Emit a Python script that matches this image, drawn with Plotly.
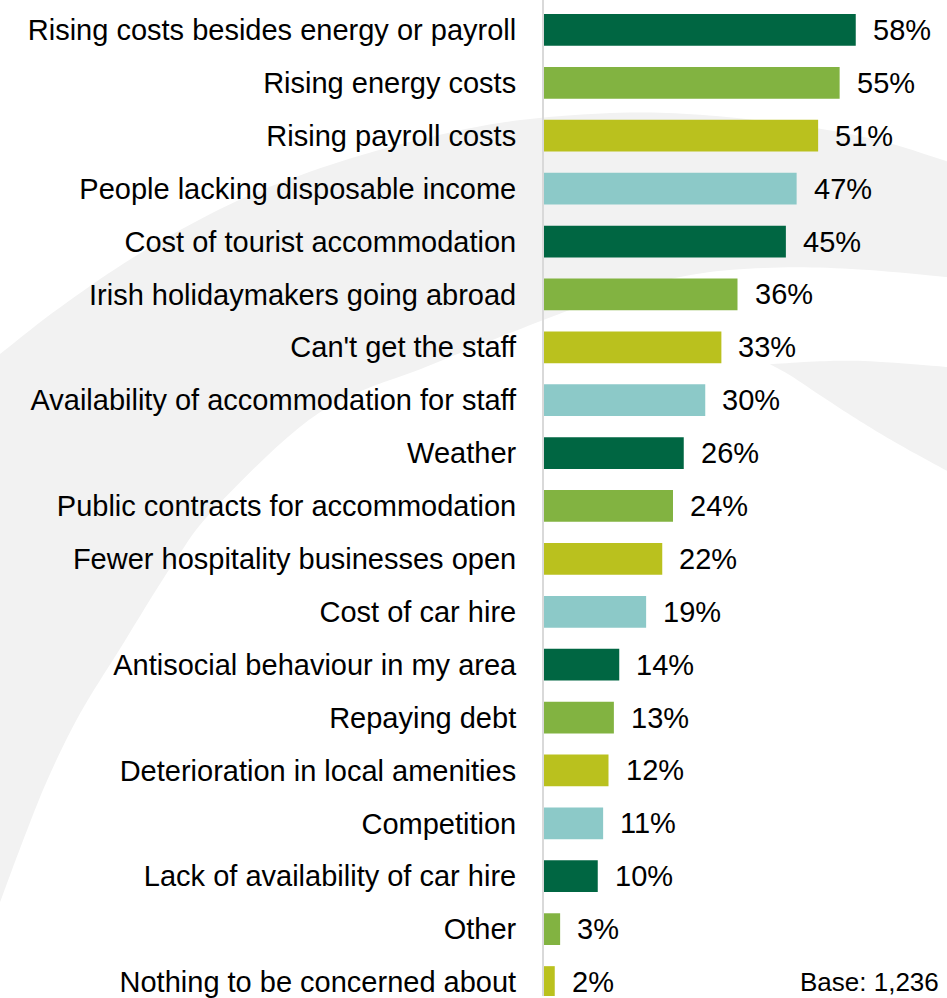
import plotly.graph_objects as go

# Concerns for the coming season, share of respondents (%)
categories = [
    "Rising costs besides energy or payroll",
    "Rising energy costs",
    "Rising payroll costs",
    "People lacking disposable income",
    "Cost of tourist accommodation",
    "Irish holidaymakers going abroad",
    "Can't get the staff",
    "Availability of accommodation for staff",
    "Weather",
    "Public contracts for accommodation",
    "Fewer hospitality businesses open",
    "Cost of car hire",
    "Antisocial behaviour in my area",
    "Repaying debt",
    "Deterioration in local amenities",
    "Competition",
    "Lack of availability of car hire",
    "Other",
    "Nothing to be concerned about",
]
values = [58, 55, 51, 47, 45, 36, 33, 30, 26, 24, 22, 19, 14, 13, 12, 11, 10, 3, 2]
base_note = "Base: 1,236"

W, H = 947, 998
ML, MR, MT, MB = 544, 0, 0, 0
FONT = "Liberation Sans, Arial, sans-serif"

palette = ["#006642", "#82B341", "#BAC11E", "#8CC9C8"]
bar_colors = [palette[i % len(palette)] for i in range(len(categories))]


def to_paper(px, py):
    return (px - ML) / (W - ML - MR), 1 - (py - MT) / (H - MT - MB)


def catmull(pts, steps=10):
    out = []
    n = len(pts)
    for i in range(n - 1):
        p0 = pts[max(i - 1, 0)]
        p1 = pts[i]
        p2 = pts[i + 1]
        p3 = pts[min(i + 2, n - 1)]
        for s in range(steps):
            t = s / steps
            t2, t3 = t * t, t * t * t
            x = 0.5 * ((2 * p1[0]) + (-p0[0] + p2[0]) * t
                       + (2 * p0[0] - 5 * p1[0] + 4 * p2[0] - p3[0]) * t2
                       + (-p0[0] + 3 * p1[0] - 3 * p2[0] + p3[0]) * t3)
            y = 0.5 * ((2 * p1[1]) + (-p0[1] + p2[1]) * t
                       + (2 * p0[1] - 5 * p1[1] + 4 * p2[1] - p3[1]) * t2
                       + (-p0[1] + 3 * p1[1] - 3 * p2[1] + p3[1]) * t3)
            out.append((x, y))
    out.append(pts[-1])
    return out


def swoosh_path(edges):
    pts = []
    for e in edges:
        pts.extend(catmull(e) if len(e) > 2 else e)
    coords = [to_paper(x, y) for x, y in pts]
    d = "M " + " L ".join(f"{x:.5f},{y:.5f}" for x, y in coords) + " Z"
    return d


# decorative background arcs (pixel outlines)
band_outer = [(-4, 358), (60, 308), (143, 252), (240, 200), (340, 162), (440, 135),
              (523, 120), (620, 113), (700, 115), (800, 126), (880, 141), (951, 163)]
band_inner = [(951, 278), (860, 270), (780, 268), (700, 274), (620, 293), (540, 322),
              (430, 366), (320, 413), (217, 507), (173, 565), (120, 650), (80, 715),
              (48, 780), (22, 845), (-4, 915)]
crescent_top = [(770, 365), (820, 362), (870, 362), (951, 368)]
crescent_low = [(951, 474), (900, 446), (860, 422), (820, 396), (790, 376), (770, 365)]

shapes = [
    dict(type="path", xref="paper", yref="paper", layer="below",
         path=swoosh_path([band_outer, band_inner]),
         fillcolor="#f2f2f2", line=dict(width=0)),
    dict(type="path", xref="paper", yref="paper", layer="below",
         path=swoosh_path([crescent_top, crescent_low]),
         fillcolor="#f2f2f2", line=dict(width=0)),
]

fig = go.Figure()
fig.add_trace(go.Bar(
    x=values, y=categories, orientation="h",
    marker=dict(color=bar_colors, line=dict(width=0)),
    width=0.6, hoverinfo="skip",
))

annotations = [
    dict(x=v, y=c, xref="x", yref="y", text=f"{v}%", showarrow=False,
         xanchor="left", yanchor="middle", xshift=15,
         font=dict(family=FONT, size=29, color="#000000"))
    for c, v in zip(categories, values)
]
annotations.append(dict(
    x=1, y=0, xref="paper", yref="paper", text=base_note, showarrow=False,
    xanchor="right", yanchor="bottom", xshift=-6, yshift=-3,
    font=dict(family=FONT, size=26, color="#000000"),
))

step_px = 53.0
first_center_px = 30.0
top_val = -first_center_px / step_px
bottom_val = top_val + (H - MT - MB) / step_px
px_per_pct = 5.375

fig.update_layout(
    width=W, height=H,
    margin=dict(l=ML, r=MR, t=MT, b=MB, pad=0),
    paper_bgcolor="#ffffff",
    plot_bgcolor="rgba(0,0,0,0)",
    showlegend=False,
    shapes=shapes,
    annotations=annotations,
    font=dict(family=FONT, size=29, color="#000000"),
    xaxis=dict(range=[0, (W - ML - MR) / px_per_pct], visible=False, fixedrange=True),
    yaxis=dict(
        type="category", categoryorder="array", categoryarray=categories,
        range=[bottom_val, top_val], autorange=False,
        showline=True, linecolor="#d9d9d9", linewidth=2,
        showgrid=False, zeroline=False, ticks="",
        ticklabelstandoff=20,
        tickfont=dict(family=FONT, size=29, color="#000000"),
    ),
)

fig.write_html("out.html")
